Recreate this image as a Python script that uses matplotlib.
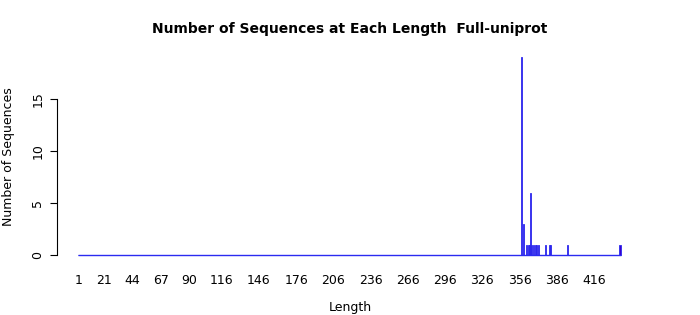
import numpy as np
import matplotlib
matplotlib.use("Agg")
import matplotlib.pyplot as plt

# Data: lengths with non-zero counts
nz_lengths = [358, 359, 362, 363, 364, 365, 366, 367, 369, 370, 371, 377, 380, 381, 395, 437]
nz_counts = [19, 3, 1, 1, 1, 6, 1, 1, 1, 1, 1, 1, 1, 1, 1, 1]
min_len = 1
max_len = 437
tick_labels = [1, 21, 44, 67, 90, 116, 146, 176, 206, 236, 266, 296, 326, 356, 386, 416]

lengths = np.arange(min_len, max_len + 1)
counts = np.zeros_like(lengths)
for L, c in zip(nz_lengths, nz_counts):
    counts[L - min_len] = c

fig = plt.figure(figsize=(7.0, 3.15), dpi=100)
ax_h = 265.4 - 47
ax = fig.add_axes([57 / 700, (315 - 265.4) / 315, (640 - 57) / 700, ax_h / 315])

bw = 0.83
edge = "#2b2bf0"
ax.bar(lengths, counts, width=bw, color="#3a00cc", edgecolor=edge, linewidth=0.6)
# zero-count bars appear as a flat line at the baseline
ax.hlines(0, lengths[0] - bw / 2, lengths[-1] + bw / 2, color=edge, linewidth=1.0)

ax.set_xlim(1 - 22 / 1.2408, 437 + 20 / 1.2408)
ax.set_ylim(-1, 20)

for s in ["top", "right", "bottom"]:
    ax.spines[s].set_visible(False)
ax.spines["left"].set_bounds(0, 15)
ax.spines["left"].set_linewidth(0.8)

ax.set_yticks([0, 5, 10, 15])
ax.set_yticklabels(["0", "5", "10", "15"], rotation=90, va="center", fontsize=9)
ax.tick_params(axis="y", length=5, width=0.8, pad=4)

ax.set_xticks(tick_labels)
ax.set_xticklabels([str(t) for t in tick_labels], fontsize=9)
ax.tick_params(axis="x", length=0, pad=6)

ax.set_xlabel("Length", fontsize=9, va="center")
ax.xaxis.set_label_coords(0.5 - (640 - 57 - 2 * (350 - 57)) / 2 / 583, (265.4 - 308) / ax_h)
ax.set_ylabel("Number of Sequences", fontsize=9, va="center")
ax.yaxis.set_label_coords((9 - 57) / 583, (265.4 - 157) / ax_h)
fig.text(350 / 700, 1 - 29 / 315, "Number of Sequences at Each Length  Full-uniprot",
         ha="center", va="center", fontsize=10, fontweight="bold")

fig.savefig("out.png", dpi=100)
